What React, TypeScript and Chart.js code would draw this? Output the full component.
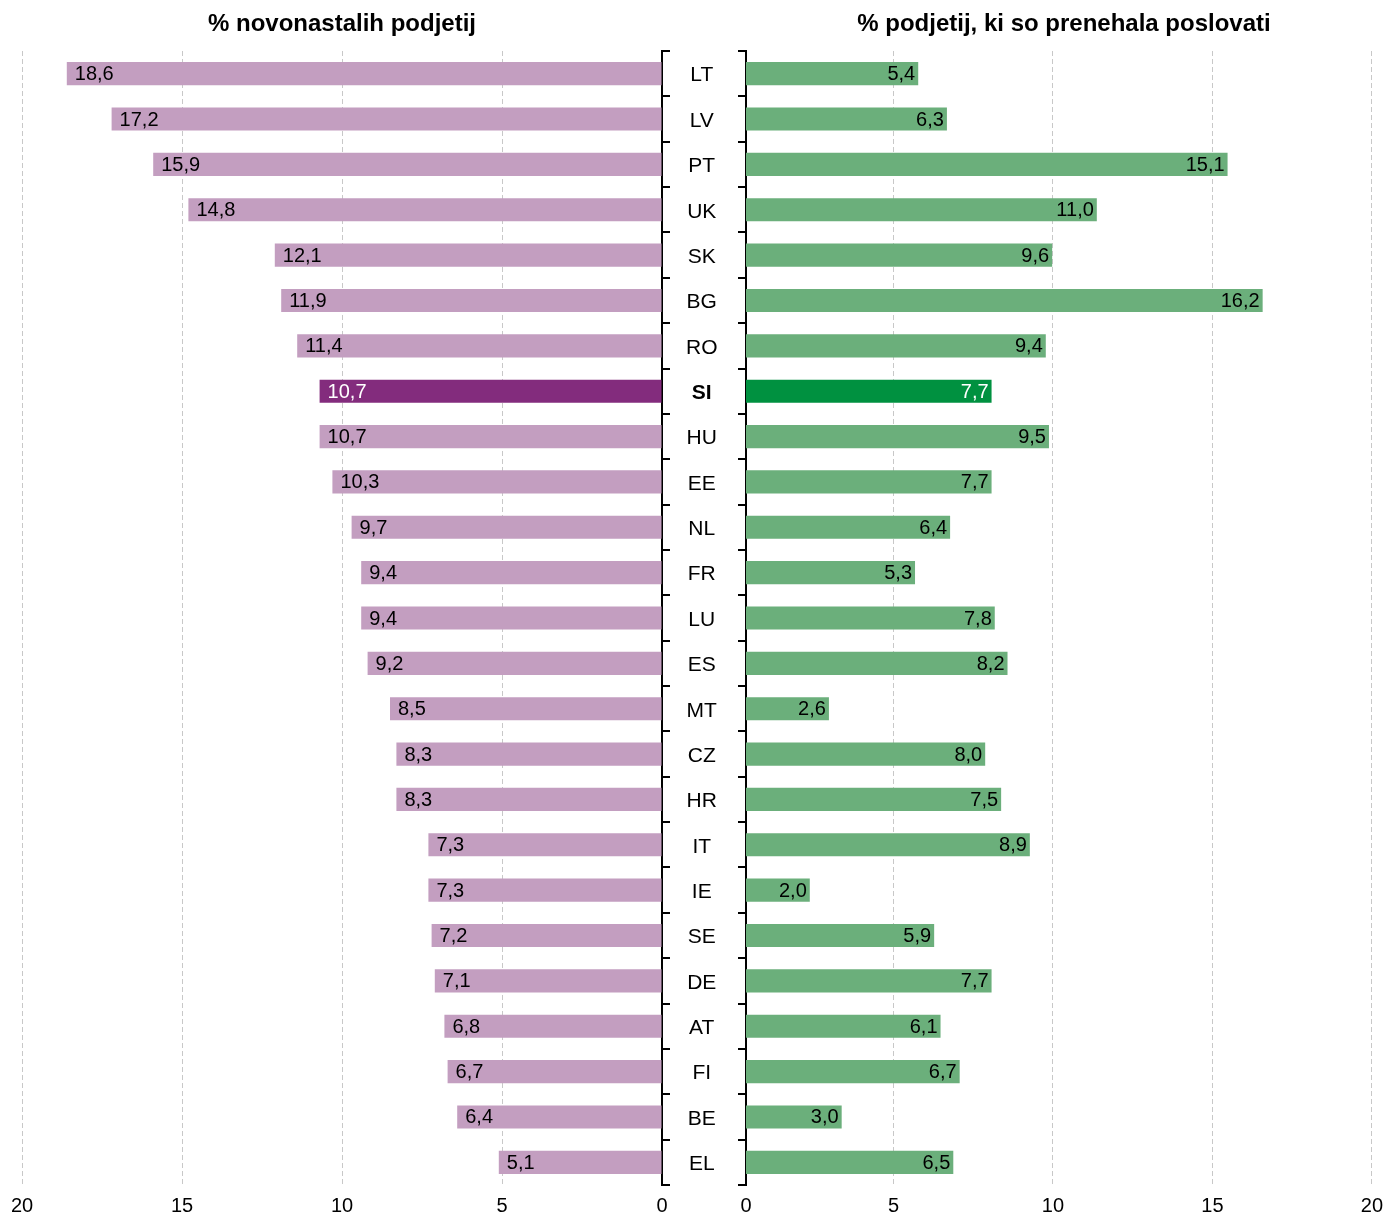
import React, { useEffect, useRef } from 'react';
import { Chart, registerables } from 'chart.js';

Chart.register(...registerables);

const countries = ['LT', 'LV', 'PT', 'UK', 'SK', 'BG', 'RO', 'SI', 'HU', 'EE', 'NL', 'FR', 'LU', 'ES', 'MT', 'CZ', 'HR', 'IT', 'IE', 'SE', 'DE', 'AT', 'FI', 'BE', 'EL'];
const birthRates = [18.6, 17.2, 15.9, 14.8, 12.1, 11.9, 11.4, 10.7, 10.7, 10.3, 9.7, 9.4, 9.4, 9.2, 8.5, 8.3, 8.3, 7.3, 7.3, 7.2, 7.1, 6.8, 6.7, 6.4, 5.1];
// bar lengths as drawn in the picture
const deathRates = [5.4, 6.3, 15.1, 11.0, 9.6, 16.2, 9.4, 7.7, 9.5, 7.7, 6.4, 5.3, 7.8, 8.2, 2.6, 7.5, 8.0, 8.9, 2.0, 5.9, 7.7, 6.1, 6.7, 3.0, 6.5];
// values printed on the bars in the picture
const deathLabels = [5.4, 6.3, 15.1, 11.0, 9.6, 16.2, 9.4, 7.7, 9.5, 7.7, 6.4, 5.3, 7.8, 8.2, 2.6, 8.0, 7.5, 8.9, 2.0, 5.9, 7.7, 6.1, 6.7, 3.0, 6.5];
const leftTicks = [0, 5, 10, 15, 20];
const rightTicks = [0, 5, 10, 15, 20];
const highlight = 'SI';
const leftTitle = '% novonastalih podjetij';
const rightTitle = '% podjetij, ki so prenehala poslovati';

const FONT = '"Liberation Sans", Arial, sans-serif';
const PURPLE = '#c39ec0';
const PURPLE_HI = '#832c7d';
const GREEN = '#6baf7b';
const GREEN_HI = '#009140';
const GRID = '#c8c8c8';
const RIGHT_GRID_SHIFT = 0.375; // right chart's grid is drawn slightly offset from its bars

const fmt = (v: number) => v.toFixed(1).replace('.', ',');

const valueLabels = (side: 'left' | 'right', labels: number[]) => ({
  id: 'valueLabels_' + side,
  afterDatasetsDraw(chart: any) {
    const ctx = chart.ctx;
    const meta = chart.getDatasetMeta(0);
    ctx.save();
    ctx.font = `20px ${FONT}`;
    ctx.textBaseline = 'middle';
    meta.data.forEach((bar: any, i: number) => {
      ctx.fillStyle = countries[i] === highlight ? '#ffffff' : '#000000';
      const text = fmt(labels[i]);
      if (side === 'left') {
        ctx.textAlign = 'left';
        ctx.fillText(text, bar.x + 8, bar.y + 1);
      } else {
        ctx.textAlign = 'right';
        ctx.fillText(text, bar.x - 3, bar.y + 1);
      }
    });
    ctx.restore();
  },
});

export default function App() {
  const leftRef = useRef<HTMLCanvasElement>(null);
  const rightRef = useRef<HTMLCanvasElement>(null);

  useEffect(() => {
    const left = new Chart(leftRef.current!, {
      type: 'bar',
      data: {
        labels: countries,
        datasets: [
          {
            data: birthRates,
            backgroundColor: countries.map((c) => (c === highlight ? PURPLE_HI : PURPLE)),
            barPercentage: 0.51,
            categoryPercentage: 1,
          },
        ],
      },
      options: {
        indexAxis: 'y',
        animation: false,
        responsive: false,
        maintainAspectRatio: false,
        layout: { padding: { left: 22, right: 646, top: 51, bottom: 0 } },
        plugins: { legend: { display: false }, tooltip: { enabled: false } },
        scales: {
          x: {
            type: 'linear',
            reverse: true,
            min: 0,
            max: 20,
            afterBuildTicks: (s: any) => {
              s.ticks = leftTicks.map((v) => ({ value: v }));
            },
            afterFit: (s: any) => {
              s.height = 31;
            },
            ticks: { color: '#000', font: { size: 20, family: FONT }, padding: 9, maxRotation: 0 },
            grid: {
              color: (c: any) => (c.tick && c.tick.value === 0 ? 'rgba(0,0,0,0)' : GRID),
              drawTicks: false,
              lineWidth: 1,
            },
            border: { display: false, dash: [5, 3] },
          },
          y: {
            type: 'category',
            position: 'right',
            afterFit: (s: any) => {
              s.width = 84;
            },
            ticks: {
              crossAlign: 'center',
              padding: 16,
              labelOffset: 2,
              color: '#000',
              font: (c: any) => ({ size: 21, family: FONT, weight: countries[c.index] === highlight ? 'bold' : 'normal' }),
            },
            grid: { drawOnChartArea: false, drawTicks: true, tickLength: 8, color: '#000', lineWidth: 2, offset: true },
            border: { color: '#000', width: 2 },
          },
        },
      },
      plugins: [valueLabels('left', birthRates)],
    } as any);

    const right = new Chart(rightRef.current!, {
      type: 'bar',
      data: {
        labels: countries,
        datasets: [
          {
            data: deathRates,
            backgroundColor: countries.map((c) => (c === highlight ? GREEN_HI : GREEN)),
            barPercentage: 0.51,
            categoryPercentage: 1,
            xAxisID: 'x',
          },
        ],
      },
      options: {
        indexAxis: 'y',
        animation: false,
        responsive: false,
        maintainAspectRatio: false,
        layout: { padding: { left: 726, right: 18, top: 51, bottom: 0 } },
        plugins: { legend: { display: false }, tooltip: { enabled: false } },
        scales: {
          x: {
            type: 'linear',
            display: false,
            min: 0,
            max: 20 - RIGHT_GRID_SHIFT,
          },
          x2: {
            type: 'linear',
            position: 'bottom',
            min: RIGHT_GRID_SHIFT,
            max: 20,
            afterBuildTicks: (s: any) => {
              s.ticks = rightTicks.map((v) => ({ value: v === 0 ? RIGHT_GRID_SHIFT : v }));
            },
            afterFit: (s: any) => {
              s.height = 31;
            },
            ticks: {
              color: '#000',
              font: { size: 20, family: FONT },
              padding: 9,
              maxRotation: 0,
              callback: (v: any) => (v < 1 ? '0' : String(v)),
            },
            grid: {
              color: (c: any) => (c.tick && c.tick.value < 1 ? 'rgba(0,0,0,0)' : GRID),
              drawTicks: false,
              lineWidth: 1,
            },
            border: { display: false, dash: [5, 3] },
          },
          y: {
            type: 'category',
            position: 'left',
            afterFit: (s: any) => {
              s.width = 20;
            },
            ticks: { display: false },
            grid: { drawOnChartArea: false, drawTicks: true, tickLength: 8, color: '#000', lineWidth: 2, offset: true },
            border: { color: '#000', width: 2 },
          },
        },
      },
      plugins: [valueLabels('right', deathLabels)],
    } as any);

    return () => {
      left.destroy();
      right.destroy();
    };
  }, []);

  const titleStyle: React.CSSProperties = {
    position: 'absolute',
    top: 11,
    width: 640,
    textAlign: 'center',
    fontFamily: FONT,
    fontWeight: 'bold',
    fontSize: 24,
    lineHeight: '24px',
    color: '#000',
    whiteSpace: 'nowrap',
  };

  return (
    <div style={{ position: 'absolute', left: 0, top: 0, width: 1392, height: 1216, background: '#fff' }}>
      <canvas ref={leftRef} width={1392} height={1216} style={{ position: 'absolute', left: 0, top: 0 }} />
      <canvas ref={rightRef} width={1392} height={1216} style={{ position: 'absolute', left: 0, top: 0 }} />
      <div style={{ ...titleStyle, left: 22 }}>{leftTitle}</div>
      <div style={{ ...titleStyle, left: 744 }}>{rightTitle}</div>
    </div>
  );
}
